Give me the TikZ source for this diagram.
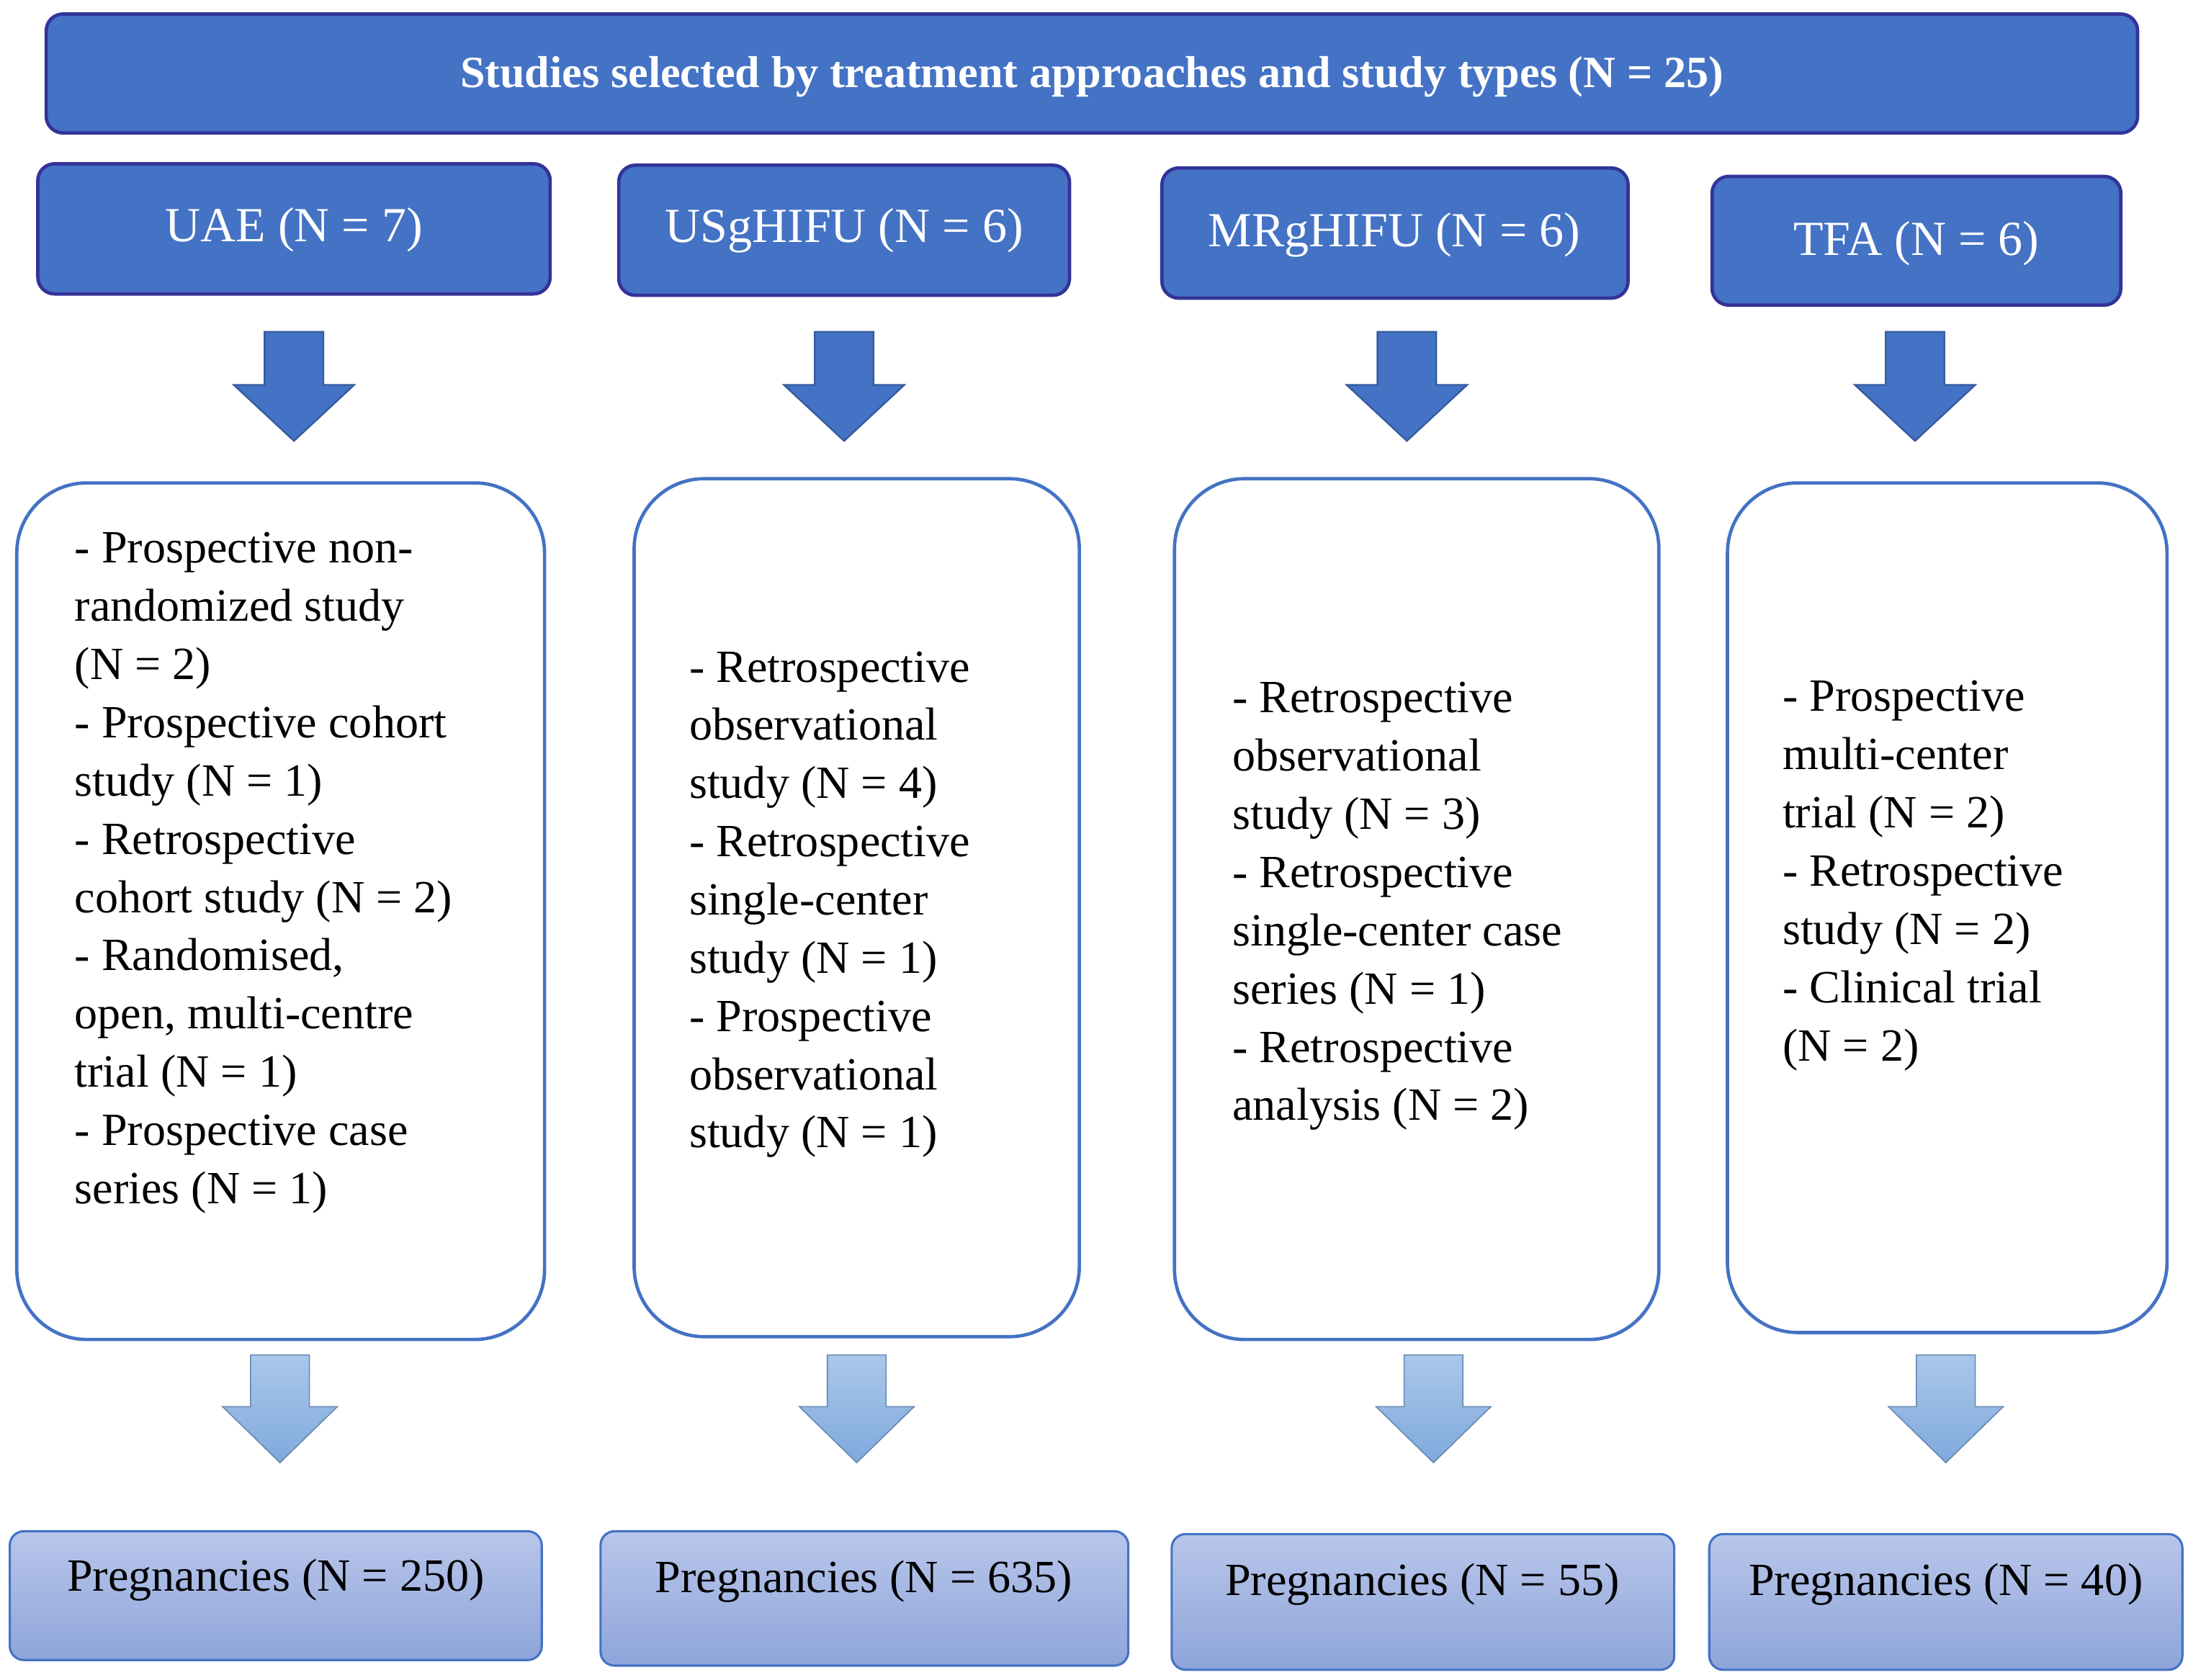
\documentclass[tikz,border=0pt]{standalone}
\usepackage{fontspec}
\setmainfont{Liberation Serif}
\begin{document}
\begin{tikzpicture}[x=0.5pt,y=-0.5pt,
  hdr/.style={draw=blue!50!black!80,line width=1.2pt,fill=hblue,rounded corners=6pt,text=white},
  cbox/.style={draw=hblue,line width=1.2pt,fill=white,rounded corners=25pt},
  pbox/.style={draw=hblue,line width=0.8pt,top color=pt,bottom color=pb,rounded corners=5pt},
  txt/.style={anchor=north west,align=left,font=\fontsize{16.5}{20.8}\selectfont,inner sep=0pt},
  darr/.style={fill=hblue,draw=hblue!80!black,line width=0.6pt},
  larr/.style={top color=lt,bottom color=lb,draw=lb!80!black,line width=0.4pt}]
\definecolor{hblue}{HTML}{4472C4}
\definecolor{pt}{HTML}{B8C6EA}
\definecolor{pb}{HTML}{8EA5DA}
\definecolor{lt}{HTML}{A9C7EA}
\definecolor{lb}{HTML}{7FA9DC}
\useasboundingbox (0,0) rectangle (1563,1200);
\draw[hdr,fill=hblue] (33,10) rectangle (1527,95);
\node[text=white,font=\fontsize{16}{19}\selectfont\bfseries] (title) at (780,55) {Studies selected by treatment approaches and study types (N = 25)};
\draw[hdr] (27,117) rectangle (393,210);
\draw[hdr] (442,118) rectangle (764,211);
\draw[hdr] (830,120) rectangle (1163,213);
\draw[hdr] (1223,126) rectangle (1515,218);
\node[text=white,font=\fontsize{17.5}{20}\selectfont] (h1) at (210,164) {UAE (N = 7)};
\node[text=white,font=\fontsize{17.5}{20}\selectfont] (h2) at (603,165) {USgHIFU (N = 6)};
\node[text=white,font=\fontsize{17.5}{20}\selectfont] (h3) at (996,168) {MRgHIFU (N = 6)};
\node[text=white,font=\fontsize{17.5}{20}\selectfont] (h4) at (1369,174) {TFA (N = 6)};
\foreach \c in {210,603,1005,1368}{
  \draw[darr] (\c-21,237)--(\c+21,237)--(\c+21,275)--(\c+43,275)--(\c,315)--(\c-43,275)--(\c-21,275)--cycle;}
\foreach \c in {200,612,1024,1390}{
  \draw[larr] (\c-21,968)--(\c+21,968)--(\c+21,1005)--(\c+41,1005)--(\c,1045)--(\c-41,1005)--(\c-21,1005)--cycle;}
\draw[cbox] (12,345) rectangle (389,957);
\draw[cbox] (453,342) rectangle (771,955);
\draw[cbox] (839,342) rectangle (1185,957);
\draw[cbox] (1234,345) rectangle (1548,952);
\node[txt] (t1) at (53,380) {- Prospective non-\\randomized study\\(N = 2)\\- Prospective cohort\\study (N = 1)\\- Retrospective\\cohort study (N = 2)\\- Randomised,\\open, multi-centre\\trial (N = 1)\\- Prospective case\\series (N = 1)};
\node[txt] (t2) at (492,465) {- Retrospective\\observational\\study (N = 4)\\- Retrospective\\single-center\\study (N = 1)\\- Prospective\\observational\\study (N = 1)};
\node[txt] (t3) at (880,487) {- Retrospective\\observational\\study (N = 3)\\- Retrospective\\single-center case\\series (N = 1)\\- Retrospective\\analysis (N = 2)};
\node[txt] (t4) at (1273,486) {- Prospective\\multi-center\\trial (N = 2)\\- Retrospective\\study (N = 2)\\- Clinical trial\\(N = 2)};
\draw[pbox] (7,1094) rectangle (387,1186);
\draw[pbox] (429,1094) rectangle (806,1190);
\draw[pbox] (837,1096) rectangle (1196,1193);
\draw[pbox] (1221,1096) rectangle (1559,1193);
\node[font=\fontsize{16.5}{20}\selectfont] (p1) at (197,1129) {Pregnancies (N = 250)};
\node[font=\fontsize{16.5}{20}\selectfont] (p2) at (617,1130) {Pregnancies (N = 635)};
\node[font=\fontsize{16.5}{20}\selectfont] (p3) at (1016,1132) {Pregnancies (N = 55)};
\node[font=\fontsize{16.5}{20}\selectfont] (p4) at (1390,1132) {Pregnancies (N = 40)};
\end{tikzpicture}
\end{document}
